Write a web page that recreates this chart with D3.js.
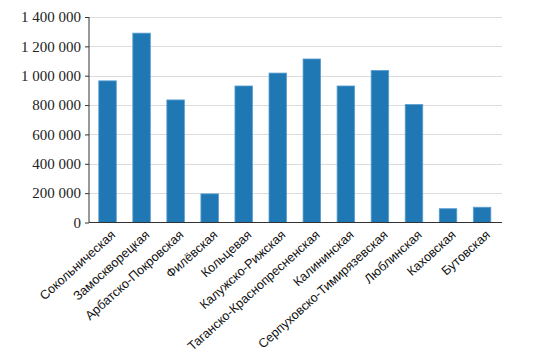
<!DOCTYPE html>
<html><head><meta charset="utf-8">
<script src="https://cdn.jsdelivr.net/npm/d3@7"></script>
<style>html,body{margin:0;padding:0;background:#fff;}</style>
</head><body>
<svg id="chart" width="539" height="357"></svg>
<script>
const categories = ["Сокольническая","Замоскворецкая","Арбатско-Покровская","Филёвская","Кольцевая","Калужско-Рижская","Таганско-Краснопресненская","Калининская","Серпуховско-Тимирязевская","Люблинская","Каховская","Бутовская"];
const values = [965000, 1290000, 835000, 195000, 930000, 1018000, 1114000, 930000, 1036000, 804000, 94000, 104000];
const yTicks = [0, 200000, 400000, 600000, 800000, 1000000, 1200000, 1400000];

const svg = d3.select("#chart");
const plotLeft = 89, plotRight = 502, plotTop = 17, plotBottom = 222.5;

const x = d3.scaleBand().domain(categories).range([90.5, 499.1]).paddingInner(0.485).paddingOuter(0.2425);
const y = d3.scaleLinear().domain([0, 1400000]).range([plotBottom, plotTop]);

const fmt = v => d3.format(",")(v).replace(/,/g, " ");

// grid
svg.append("g").selectAll("line").data(yTicks.slice(1)).join("line")
  .attr("x1", plotLeft).attr("x2", plotRight)
  .attr("y1", d => Math.round(y(d)) + 0.5).attr("y2", d => Math.round(y(d)) + 0.5)
  .attr("stroke", "#dcdcdc").attr("stroke-width", 1);

// bars
svg.append("g").selectAll("rect").data(values).join("rect")
  .attr("x", (d, i) => x(categories[i]))
  .attr("width", x.bandwidth())
  .attr("y", d => y(d))
  .attr("height", d => plotBottom - y(d))
  .attr("fill", "#1f78b4")
  .attr("stroke", "#5a9fd0").attr("stroke-width", 0.8);

// y axis
const yAxis = d3.axisLeft(y).tickValues(yTicks).tickFormat(fmt).tickSize(4).tickPadding(4);
const gy = svg.append("g").attr("transform", `translate(${plotLeft},0)`).call(yAxis);
gy.attr("font-family", null).attr("font-size", null);
gy.select(".domain").attr("stroke", "#333").attr("d", `M0,${plotTop}V${plotBottom}`);
gy.selectAll(".tick line").attr("stroke", "#333");
gy.selectAll(".tick text")
  .style("font-family", "'Liberation Serif', serif").style("font-size", "15px").attr("fill", "#222");

// x axis
const gx = svg.append("g").attr("transform", `translate(0,${plotBottom})`);
gx.append("line").attr("x1", plotLeft).attr("x2", plotRight).attr("y1", 0).attr("y2", 0).attr("stroke", "#333");
gx.selectAll("text").data(categories).join("text")
  .attr("transform", d => `translate(${x(d) + x.bandwidth() / 2 + 5.7},${10.2}) rotate(-42)`)
  .attr("text-anchor", "end")
  .attr("dy", "0.35em")
  .style("font-family", "'Liberation Sans', Arial, sans-serif")
  .style("font-size", "12.7px")
  .attr("fill", "#111")
  .text(d => d);
</script>
</body></html>
